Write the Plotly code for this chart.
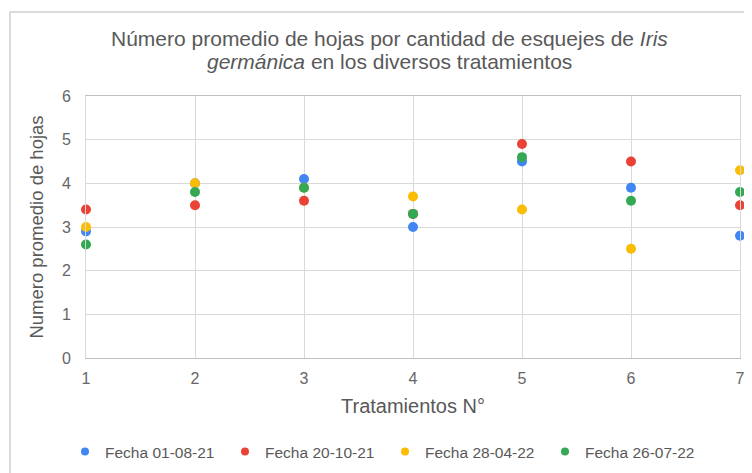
import plotly.graph_objects as go

tratamientos = [1, 2, 3, 4, 5, 6, 7]
fecha_01_08_21 = [2.9, 4.0, 4.1, 3.0, 4.5, 3.9, 2.8]
fecha_20_10_21 = [3.4, 3.5, 3.6, 3.3, 4.9, 4.5, 3.5]
fecha_28_04_22 = [3.0, 4.0, 3.9, 3.7, 3.4, 2.5, 4.3]
fecha_26_07_22 = [2.6, 3.8, 3.9, 3.3, 4.6, 3.6, 3.8]

series = [
    ("Fecha 01-08-21", fecha_01_08_21, "#4285F4"),
    ("Fecha 20-10-21", fecha_20_10_21, "#EA4335"),
    ("Fecha 28-04-22", fecha_28_04_22, "#FBBC04"),
    ("Fecha 26-07-22", fecha_26_07_22, "#34A853"),
]

fig = go.Figure()
for name, vals, color in series:
    fig.add_trace(go.Scatter(
        x=tratamientos, y=vals, mode="markers", name=name,
        marker=dict(color=color, size=10, line=dict(width=0)),
        cliponaxis=False, legendgroup=name, showlegend=False,
    ))
# legend entries with smaller symbols (no data points)
for name, vals, color in series:
    fig.add_trace(go.Scatter(
        x=[None], y=[None], mode="markers", name=name,
        marker=dict(color=color, size=8, line=dict(width=0)),
        legendgroup=name, showlegend=True,
    ))

# the page body has an 8px margin; figure is offset by 8px
W, H = 744, 465
L, T = 78, 88
R = W - 732
B = H - 350
pw, ph = W - L - R, H - T - B

grey = "#595959"

fig.update_layout(
    width=W, height=H,
    margin=dict(l=L, r=R, t=T, b=B, autoexpand=False),
    paper_bgcolor="white", plot_bgcolor="white",
    font=dict(family="Liberation Sans, Arial, sans-serif", color=grey),
    xaxis=dict(
        range=[1, 7], tickvals=tratamientos, ticktext=[str(t) for t in tratamientos],
        showgrid=True, gridcolor="#d9d9d9", gridwidth=1,
        zeroline=False, showline=True, linecolor="#bfbfbf", linewidth=1, mirror=True,
        ticks="", tickfont=dict(size=16, color="#666666"), ticklabelstandoff=6,
        ticklabeloverflow="allow",
        title=dict(text="Tratamientos N°", font=dict(size=20, color=grey), standoff=12),
        automargin=False,
    ),
    yaxis=dict(
        range=[0, 6], dtick=1,
        showgrid=True, gridcolor="#d9d9d9", gridwidth=1,
        zeroline=False, showline=True, linecolor="#d9d9d9", linewidth=1, mirror=True,
        ticks="", tickfont=dict(size=16, color="#666666"), ticklabelstandoff=11,
        title=dict(text="Numero promedio de hojas", font=dict(size=18.5, color=grey), standoff=13),
        automargin=False,
    ),
    legend=dict(
        orientation="h", x=(77 - 20) / W, xanchor="left", xref="container",
        y=1 - 444 / H, yanchor="middle", yref="container",
        font=dict(size=15.5, color=grey), entrywidth=115, itemsizing="trace",
        bgcolor="rgba(0,0,0,0)",
    ),
    showlegend=True,
)

fig.add_annotation(
    text="Número promedio de hojas por cantidad de esquejes de <i>Iris</i>",
    xref="paper", yref="paper", x=(381 - L) / pw, y=(T + ph - 31) / ph,
    xanchor="center", yanchor="middle", showarrow=False,
    font=dict(size=21, color=grey),
)
fig.add_annotation(
    text="<i>germánica</i> en los diversos tratamientos",
    xref="paper", yref="paper", x=(381 - L) / pw, y=(T + ph - 54) / ph,
    xanchor="center", yanchor="middle", showarrow=False,
    font=dict(size=21, color=grey),
)

fig.add_shape(
    type="rect", xref="paper", yref="paper",
    x0=(2 - L) / pw, x1=(W + 20 - L) / pw,
    y0=-(H + 20 - (T + ph)) / ph, y1=(T + ph - 4) / ph,
    line=dict(color="#d0d0d0", width=1.5), fillcolor="rgba(0,0,0,0)", layer="below",
)

fig.write_html("out.html")
